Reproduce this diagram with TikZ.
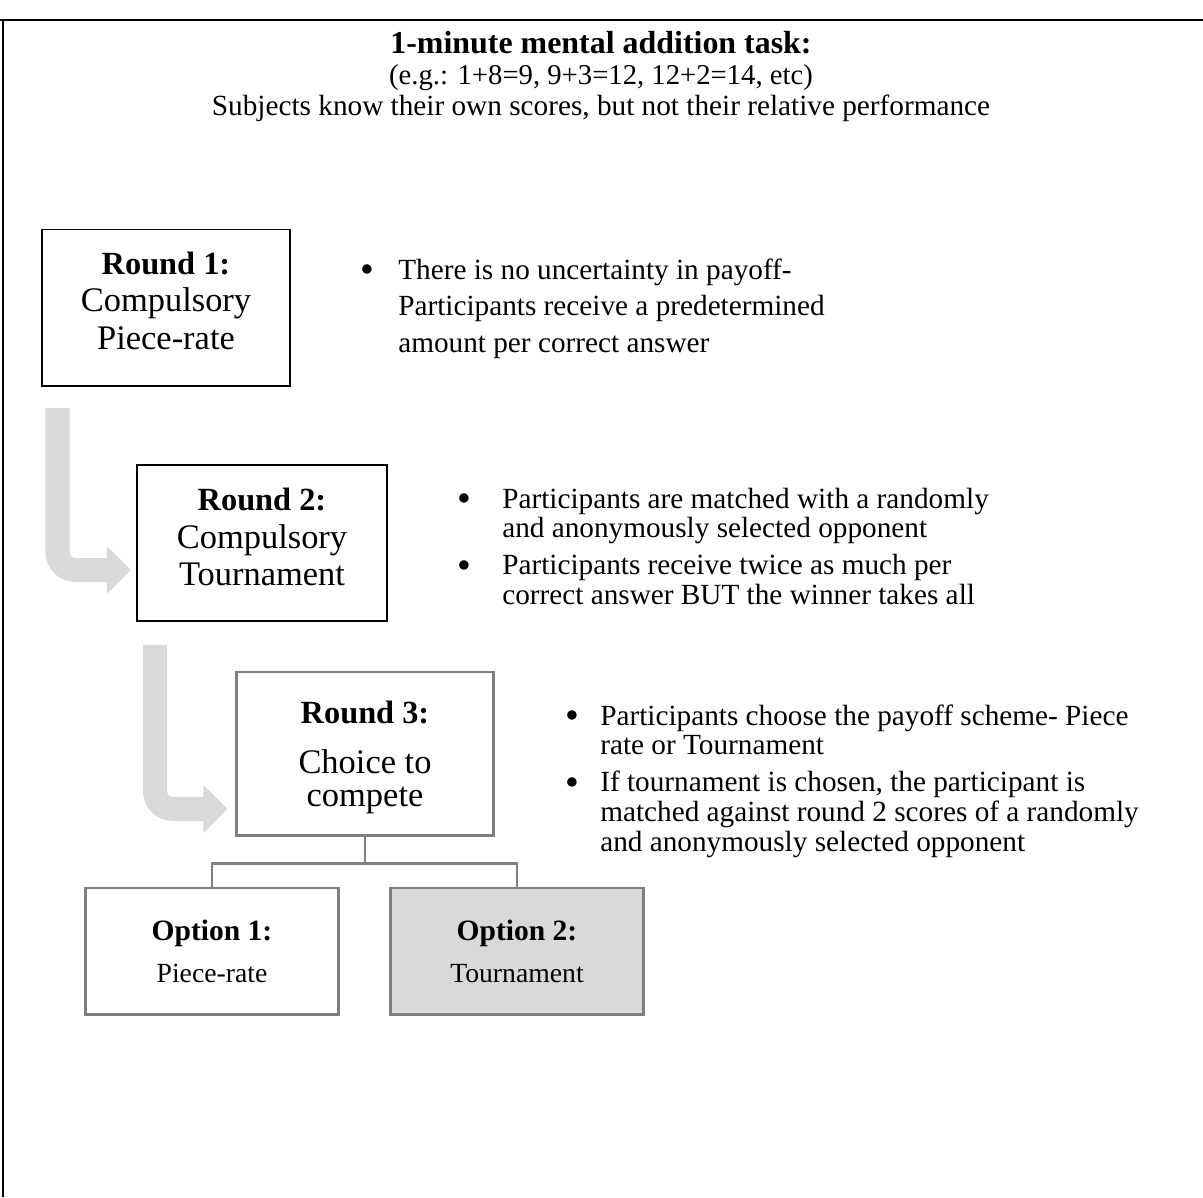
\documentclass[tikz,border=0pt]{standalone}
\usepackage{fontspec}
\setmainfont{Liberation Serif}
\usetikzlibrary{positioning,arrows.meta,calc}
\definecolor{lineGray}{HTML}{7F7F7F}
\definecolor{flowGray}{HTML}{D9D9D9}
\newcommand{\rtitle}[1]{{\fontsize{23}{26.7}\selectfont\bfseries #1}}
\newcommand{\otitle}[1]{{\fontsize{21}{30}\selectfont\bfseries #1}}
\newcommand{\blt}{\raisebox{-2.5pt}{\fontsize{28}{21}\selectfont\textbullet}}

\begin{document}
\begin{tikzpicture}[x=0.025cm, y=-0.025cm,
  rbox/.style={draw=black, line width=1.4pt, align=center, minimum width=6.2cm, minimum height=3.9cm,
    font=\fontsize{24.5}{26.7}\selectfont},
  obox/.style={draw=lineGray, line width=2.1pt, align=center, minimum width=6.3cm, minimum height=3.15cm,
    font=\fontsize{19.7}{30}\selectfont},
  notes/.style={anchor=base west, inner sep=0pt, font=\fontsize{20.8}{21.3}\selectfont},
  flow/.style={draw=flowGray, line width=0.6cm, rounded corners=0.45cm, -{Triangle[length=0.6cm, width=1.15cm]}},
  link/.style={draw=lineGray, line width=2.1pt}]
\useasboundingbox (0,0) rectangle (1203,1197);
% frame
\draw[line width=2.1pt] (0,20) -- (1203,20);
\draw[line width=1.4pt] (3,20) -- (3,1197);
% heading
\node[anchor=base, font=\fontsize{22.7}{26}\selectfont\bfseries] (task) at (601,53) {1-minute mental addition task:};
\node[anchor=base, font=\fontsize{20.4}{24}\selectfont] (eg) at (601,84) {(e.g.: 1+8=9, 9+3=12, 12+2=14, etc)};
\node[anchor=base, font=\fontsize{20.8}{24}\selectfont] (info) at (601,115) {Subjects know their own scores, but not their relative performance};
% rounds
\node[rbox] (r1) at (166,307.5) {\rtitle{Round 1:}\\Compulsory\\Piece-rate\rule[-10pt]{0pt}{0pt}};
\node[rbox, minimum width=6.25cm] (r2) at (262,543) {\rtitle{Round 2:}\\Compulsory\\Tournament\rule[-8.6pt]{0pt}{0pt}};
\node[rbox, draw=lineGray, line width=2.1pt, minimum width=6.4cm, minimum height=4.075cm,
  font=\fontsize{24.5}{23.5}\selectfont] (r3) at (365,753.5) {\rule{0pt}{21.4pt}\rtitle{Round 3:}\\[12pt]Choice to\\compete};
% options
\node[obox] (o1) at (212,951) {\otitle{Option 1:}\\Piece-rate};
\node[obox, fill=flowGray] (o2) at (517,951) {\otitle{Option 2:}\\Tournament};
\draw[link] (r3.south) -- ++(0,27) -| (o1.north);
\draw[link] (r3.south) -- ++(0,27) -| (o2.north);
% gray arrows
\coordinate (f1) at (57.5,408);
\coordinate (f2) at (155,645);
\draw[flow] (f1) |- ($(r2.west)+(-5,27)$);
\draw[flow] (f2) |- ($(r3.west)+(-8,55.5)$);
% notes
\node[notes, font=\fontsize{20.8}{26}\selectfont] (n1) at (360,279) {\begin{tabular}[t]{@{}p{0.95cm}@{}l@{}}
\blt & There is no uncertainty in payoff-\\
 & Participants receive a predetermined\\
 & amount per correct answer
\end{tabular}};
\node[notes] (n2) at (457,508) {\begin{tabular}[t]{@{}p{1.125cm}@{}l@{}}
\blt & Participants are matched with a randomly\\
 & and anonymously selected opponent\\[5pt]
\blt & Participants receive twice as much per\\
 & correct answer BUT the winner takes all
\end{tabular}};
\node[notes] (n3) at (565,725) {\begin{tabular}[t]{@{}p{0.875cm}@{}l@{}}
\blt & Participants choose the payoff scheme- Piece\\
 & rate or Tournament\\[5pt]
\blt & If tournament is chosen, the participant is\\
 & matched against round 2 scores of a randomly\\
 & and anonymously selected opponent
\end{tabular}};
\end{tikzpicture}
\end{document}
